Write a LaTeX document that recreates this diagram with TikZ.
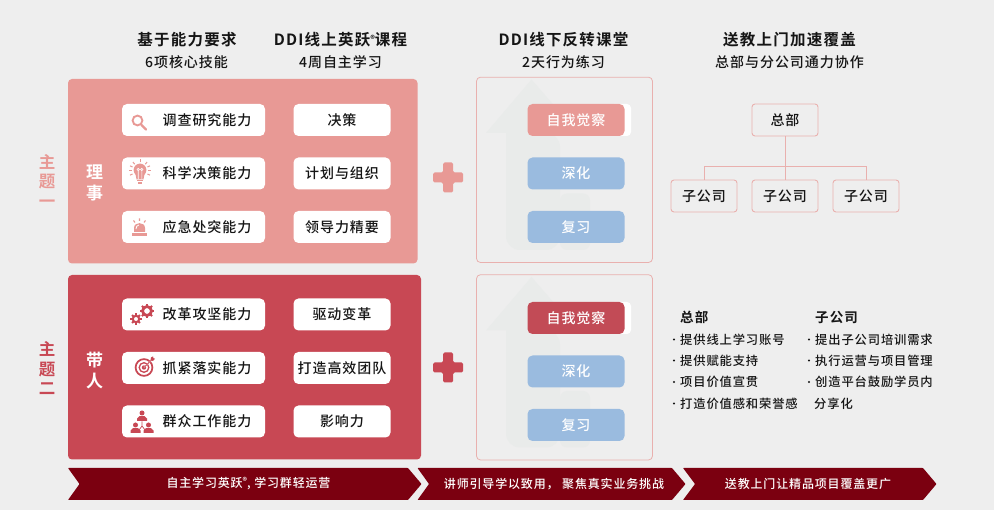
\documentclass[tikz,border=0pt]{standalone}
\usepackage{fontspec}
\setmainfont{Liberation Sans}
\newfontfamily\cjk[LetterSpace=7]{Noto Sans CJK SC Medium}
\newfontfamily\cjkh[LetterSpace=8]{Noto Sans CJK SC Bold}
\newfontfamily\cjkb[LetterSpace=4]{Noto Sans CJK SC Bold}
\newcommand{\regmark}{\raisebox{.45ex}{\fontsize{9}{9}\selectfont ®}}
\definecolor{bgc}{HTML}{EEEEEE}
\definecolor{pinkc}{HTML}{E89995}
\definecolor{redc}{HTML}{C84854}
\definecolor{redb}{HTML}{C24B56}
\definecolor{wine}{HTML}{7B0010}
\definecolor{bluec}{HTML}{9ABBDF}
\definecolor{ghost}{HTML}{E9EBEA}
\definecolor{edgec}{HTML}{E9B0AE}
\definecolor{inkc}{HTML}{151515}
\tikzset{
  x=1pt,y=-1pt,
  panel/.style={rounded corners=4pt,inner sep=0pt,outer sep=0pt},
  wbox/.style={fill=white,rounded corners=5pt,inner sep=0pt,minimum height=32pt,font=\cjk\fontsize{14}{14}\selectfont,text=inkc},
  cbox/.style={wbox,minimum width=97pt},
  sbox/.style={wbox,minimum width=143pt},
  pbox/.style={fill=#1,rounded corners=5pt,inner sep=0pt,minimum width=97pt,minimum height=32pt,text=white,font=\cjk\fontsize{14}{14}\selectfont},
  orgbox/.style={draw=edgec,line width=0.9pt,rounded corners=3pt,fill=bgc,inner sep=0pt,minimum width=66pt,minimum height=32pt,font=\cjk\fontsize{14}{14}\selectfont,text=inkc},
  plain14/.style={inner sep=0pt,font=\cjk\fontsize{14}{14}\selectfont,text=inkc},
  head/.style={inner sep=0pt,font=\cjkh\fontsize{15.5}{15.5}\selectfont,text=inkc},
  listt/.style={inner sep=0pt,anchor=west,font=\cjk\fontsize{12.3}{12.3}\selectfont,text=inkc},
  listh/.style={inner sep=0pt,anchor=west,font=\cjkh\fontsize{13.5}{13.5}\selectfont,text=inkc},
  dotn/.style={circle,fill=inkc,inner sep=0pt,minimum size=2.2pt},
  side/.style={inner sep=0pt,align=center,font=\cjkb\fontsize{17}{21.5}\selectfont},
  tagl/.style={inner sep=0pt,align=center,font=\cjkb\fontsize{16.5}{19.5}\selectfont},
  bart/.style={inner sep=0pt,text=white,font=\cjk\fontsize{12}{12}\selectfont},
}
\begin{document}
\begin{tikzpicture}
\useasboundingbox (0,0) rectangle (994,510);
\fill[bgc] (0,0) rectangle (994,510);

% headings
\node[head] (h1) at (187,40) {基于能力要求};
\node[head] (h2) at (340.5,40) {DDI\hspace{1pt}线上英跃\regmark 课程};
\node[head] (h3) at (563.5,40) {DDI\hspace{1pt}线下反转课堂};
\node[head] (h4) at (789.5,40) {送教上门加速覆盖};
\node[plain14] (s1) at (186.5,62) {6项核心技能};
\node[plain14] (s2) at (340.5,62) {4周自主学习};
\node[plain14] (s3) at (563.5,62) {2天行为练习};
\node[plain14] (s4) at (789.5,62) {总部与分公司通力协作};

% left labels
\node[tagl,text=pinkc] (t1) at (47,180.5) {主\\题\\一};
\node[tagl,text=redc] (t2) at (47,368.5) {主\\题\\二};

% panels
\fill[panel,fill=pinkc] (68,79) rectangle (417.5,263.5);
\fill[panel,fill=redc] (68,275) rectangle (421,459.5);
\node[side,text=white] (l1) at (94.5,183) {理\\事};
\node[side,text=white] (l2) at (94.5,370.5) {带\\人};

% skill boxes
\node[sbox] (a1) at (193.5,120) {};
\node[sbox] (a2) at (193.5,173.5) {};
\node[sbox] (a3) at (193.5,227) {};
\node[sbox] (b1) at (193.5,314.5) {};
\node[sbox] (b2) at (193.5,368) {};
\node[sbox] (b3) at (193.5,421.5) {};
\node[plain14] at (207,120) {调查研究能力};
\node[plain14] at (207,173.5) {科学决策能力};
\node[plain14] at (207,227) {应急处突能力};
\node[plain14] at (207,314.5) {改革攻坚能力};
\node[plain14] at (207,368) {抓紧落实能力};
\node[plain14] at (207,421.5) {群众工作能力};
\node[cbox] (c1) at (342,120) {决策};
\node[cbox] (c2) at (342,173.5) {计划与组织};
\node[cbox] (c3) at (342,227) {领导力精要};
\node[cbox] (d1) at (342,314.5) {驱动变革};
\node[cbox] (d2) at (342,368) {打造高效团队};
\node[cbox] (d3) at (342,421.5) {影响力};

% icons: magnifier
\draw[pinkc,line width=1.9pt] (137.5,120.5) circle (4.9);
\draw[pinkc,line width=2.4pt,line cap=round] (141.5,125) -- (146,129.5);
% icons: bulb
\fill[pinkc] (140,170) circle (6.4);
\fill[pinkc] (135.5,174) -- (144.5,174) -- (143.5,179.3) -- (136.5,179.3) -- cycle;
\fill[pinkc] (136.7,180) rectangle (143.3,181.5);
\fill[pinkc] (137.7,182.3) rectangle (142.3,184);
\draw[white,line width=0.6pt] (138.2,179) -- (138.2,170.5) (141.8,179) -- (141.8,170.5) (138.2,169.5) circle (1.2) (141.8,169.5) circle (1.2);
\foreach \a in {180,205,230,270,310,335,0,25,155}
  \draw[pinkc,line width=1pt] (140,170.5) ++(\a:8.2) -- ++(\a:2.8);
% icons: alarm
\fill[pinkc] (132,233) rectangle (147,236);
\fill[pinkc] (134,232) -- (134,228) .. controls (134,221.5) and (145,221.5) .. (145,228) -- (145,232) -- cycle;
\draw[white,line width=0.8pt] (136,229) .. controls (136,226.5) and (137,225.5) .. (139,225);
\draw[pinkc,line width=1.1pt] (139.5,218.5) -- (139.5,221) (133.5,220.5) -- (135,222.5) (145.5,220.5) -- (144,222.5);
% icons: gears
\foreach \cx/\cy/\ra/\rb in {147/311/5.6/2.8,136/319/4/1.9}{
  \foreach \a in {0,45,...,315}
    \draw[redc,line width=2pt] (\cx,\cy) ++(\a:\ra-1) -- ++(\a:2.6);
  \draw[redc,line width=\ra*0.5pt] (\cx,\cy) circle ({\ra*0.8});
}
% icons: target
\draw[redc,line width=1.7pt] (144,367.5) circle (8.4);
\draw[redc,line width=1.3pt] (144,367.5) circle (4.8);
\fill[redc] (144,367.5) circle (2.2);
\draw[white,line width=1.4pt] (144,367.5) -- (153,358.5);
\draw[redc,line width=0.9pt] (144,367.5) -- (152,359.5);
\fill[redc] (150.5,360) -- (151,357.5) -- (153,356.5) -- (153.5,358.2) -- (155,358.7) -- (153,361) -- cycle;
% icons: people
\foreach \px/\py in {142/413,135.5/425,148.5/425}{
  \fill[redc] (\px,\py) circle (2.5);
  \fill[redc] (\px-5,\py+8) -- (\px-5,\py+5.5) -- (\px-2.5,\py+3.2) -- (\px+2.5,\py+3.2) -- (\px+5,\py+5.5) -- (\px+5,\py+8) -- cycle;
}
\draw[redc,line width=0.7pt] (142,421.5) -- (142,426) -- (139,430) (142,426) -- (145,430);

% plus signs
\foreach \py/\pc in {177.5/pinkc,367.5/redc}{
  \fill[\pc,rounded corners=1.5pt] (433,\py-5) -- (443,\py-5) -- (443,\py-15) -- (453,\py-15) -- (453,\py-5) -- (463,\py-5) -- (463,\py+5) -- (453,\py+5) -- (453,\py+15) -- (443,\py+15) -- (443,\py+5) -- (433,\py+5) -- cycle;
}

% training panels
\foreach \oy/\ob in {0/262.5,197.5/262.5}{
  \begin{scope}[yshift=-\oy pt]
  \draw[edgec,line width=0.8pt,fill=bgc,rounded corners=4pt] (476.5,77.2) rectangle (652.5,\ob);
  \fill[ghost,rounded corners=14pt] (506,133) -- (506,250) -- (560,250) -- (560,133) [sharp corners] -- cycle;
  \fill[ghost] (486,133) -- (531.5,79.5) -- (578,133) -- cycle;
  \fill[ghost,rounded corners=7pt] (560,193.5) -- (590,193.5) -- (590,250) -- (560,250) -- cycle;
  \end{scope}
}
\fill[white,rounded corners=4pt] (610,104) rectangle (631,136);
\fill[white,rounded corners=4pt] (610,302) rectangle (631,334);
\node[pbox=pinkc] (e1) at (576,120) {自我觉察};
\node[pbox=bluec] (e2) at (576,173.5) {深化};
\node[pbox=bluec] (e3) at (576,227) {复习};
\node[pbox=redb] (f1) at (576,318) {自我觉察};
\node[pbox=bluec] (f2) at (576,371.5) {深化};
\node[pbox=bluec] (f3) at (576,425) {复习};

% org chart
\node[orgbox] (hq) at (785,120) {总部};
\node[orgbox] (k1) at (704,196) {子公司};
\node[orgbox] (k2) at (785,196) {子公司};
\node[orgbox] (k3) at (866,196) {子公司};
\coordinate (hub) at (785,166);
\draw[edgec,line width=0.9pt] (hq.south) -- (k2.north);
\draw[edgec,line width=0.9pt] (k1.north) -- (k1.north |- hub) -- (k3.north |- hub) -- (k3.north);

% lists
\node[listh] (lh1) at (680,317) {总部};
\node[listh] (lh2) at (815,317) {子公司};
\foreach \ty/\tx [count=\i] in {339.5/提供线上学习账号,360.5/提供赋能支持,382/项目价值宣贯,403.5/打造价值感和荣誉感}{
  \node[listt] (la\i) at (680,\ty) {\tx};
  \node[dotn] (lad\i) at (674,\ty) {};
}
\foreach \ty/\tx [count=\i] in {339.5/提出子公司培训需求,360.5/执行运营与项目管理,382/创造平台鼓励学员内}{
  \node[listt] (lb\i) at (815,\ty) {\tx};
  \node[dotn] (lbd\i) at (809,\ty) {};
}
\node[listt] (lb4) at (814,403.5) {分享化};

% bottom chevrons
\fill[wine,rounded corners=0.6pt] (68,468) -- (408,468) -- (421.5,484) -- (408,500) -- (68,500) -- (79.5,484) -- cycle;
\fill[wine,rounded corners=0.6pt] (417.5,468) -- (672,468) -- (685.5,484) -- (672,500) -- (417.5,500) -- (429,484) -- cycle;
\fill[wine,rounded corners=0.6pt] (683,468) -- (923,468) -- (936.5,484) -- (923,500) -- (683,500) -- (695,484) -- cycle;
\node[bart] (m1) at (248.5,484) {自主学习英跃\regmark, 学习群轻运营};
\node[bart] (m2) at (554,484) {讲师引导学以致用， 聚焦真实业务挑战};
\node[bart] (m3) at (808,484) {送教上门让精品项目覆盖更广};
\end{tikzpicture}
\end{document}
